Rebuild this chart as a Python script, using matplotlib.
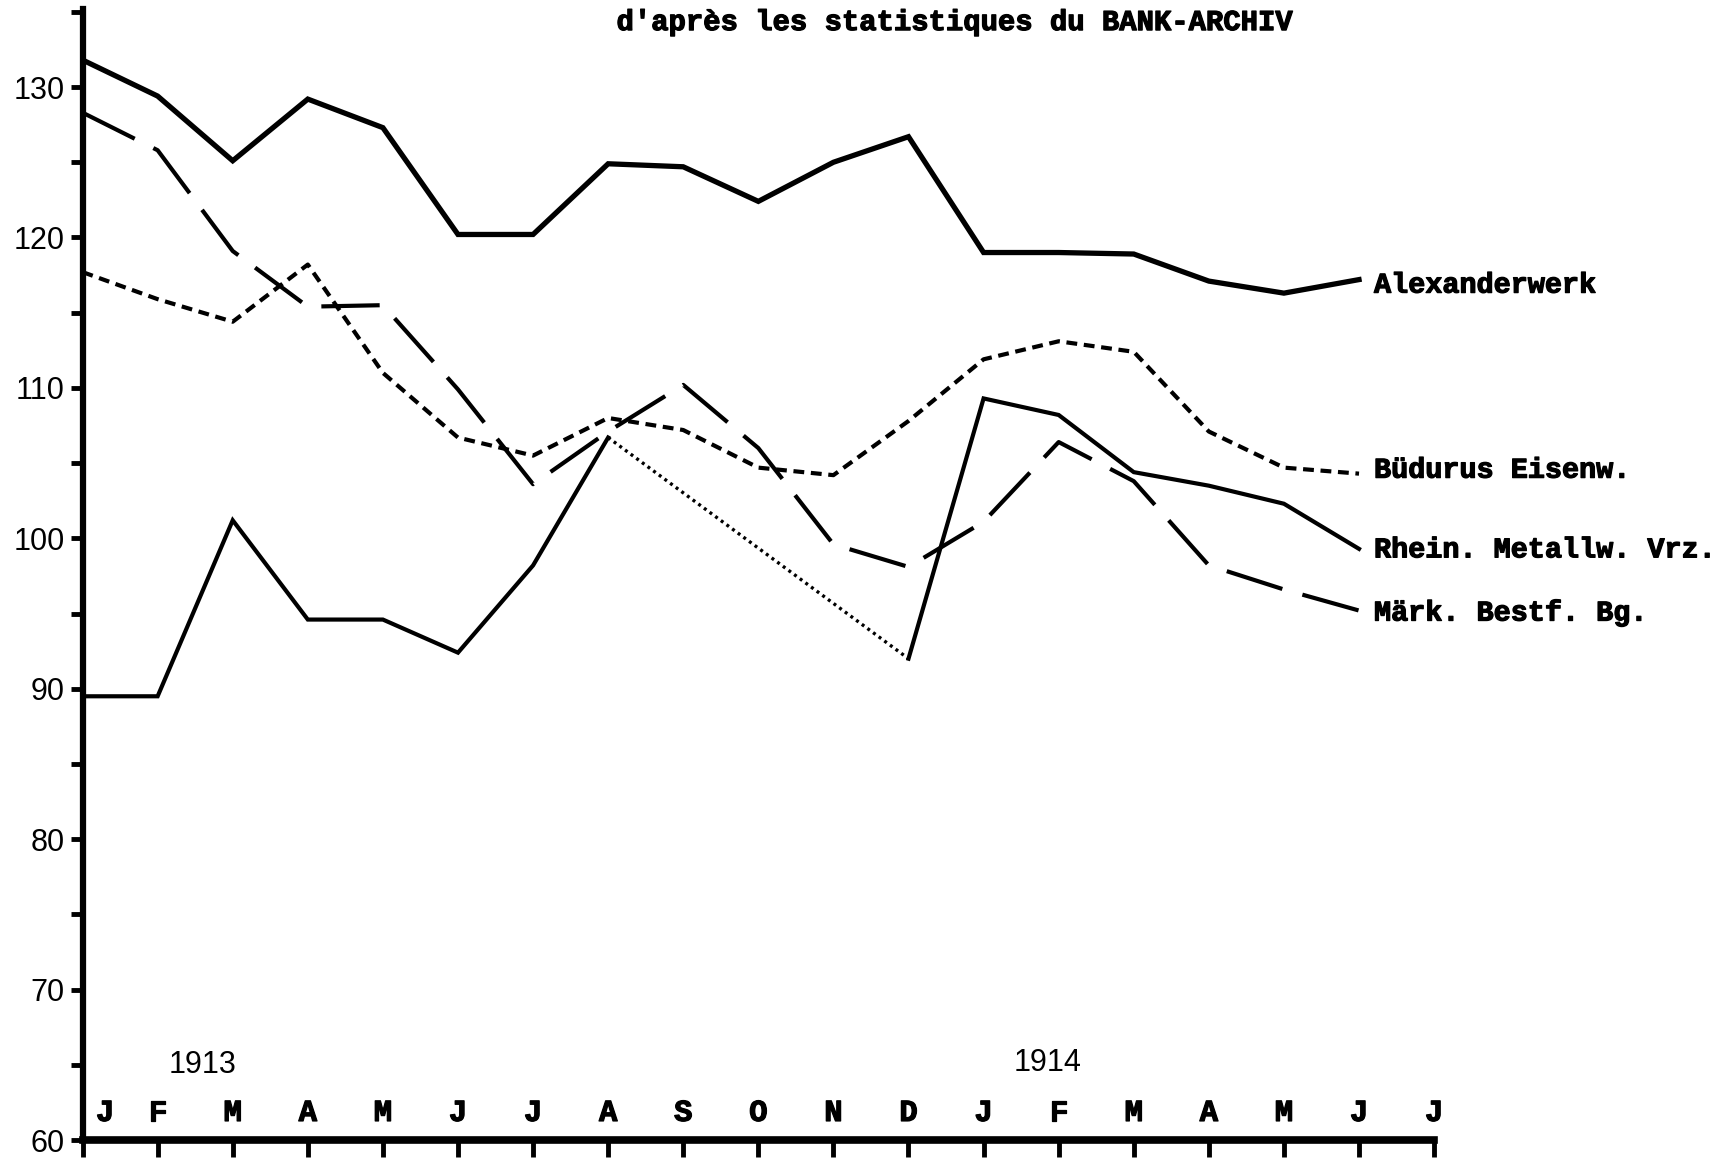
import numpy as np
import matplotlib
matplotlib.use("Agg")
import matplotlib.pyplot as plt
import matplotlib.patheffects as pe

# months Jan 1913 .. Jul 1914
months = ["J", "F", "M", "A", "M", "J", "J", "A", "S", "O", "N", "D",
          "J", "F", "M", "A", "M", "J", "J"]
years = ["1913", "1914"]

# cours
alexanderwerk = [131.8, 129.4, 125.1, 129.2, 127.3, 120.2, 120.2, 124.9, 124.7,
                 122.4, 125.0, 126.7, 119.0, 119.0, 118.9, 117.1, 116.3, 117.2]
buderus = [117.7, 115.9, 114.4, 118.2, 111.0, 106.7, 105.5, 108.0, 107.2,
           104.7, 104.2, 107.8, 111.9, 113.1, 112.4, 107.1, 104.7, 104.3]
rhein = [89.5, 89.5, 101.2, 94.6, 94.6, 92.4, 98.2, 106.7, np.nan,
         np.nan, np.nan, 92.0, 109.3, 108.2, 104.4, 103.5, 102.3, 99.3]
maerk = [128.3, 125.8, 119.1, 115.4, 115.5, 109.9, 103.6, 107.1, 110.2,
         106.0, 99.6, 98.1, 101.1, 106.4, 103.8, 98.2, 96.6, 95.2]

names = ["Alexanderwerk", "Büdurus Eisenw.", "Rhein. Metallw. Vrz.", "Märk. Bestf. Bg."]
title = "d'après les statistiques du BANK-ARCHIV"

TYPE = ["Liberation Mono", "DejaVu Sans Mono"]
HAND = ["Liberation Sans", "DejaVu Sans"]
heavy = [pe.withStroke(linewidth=0.9, foreground="black")]

fig = plt.figure(figsize=(17.27, 11.62), dpi=100)
ax = fig.add_axes([0.0478, 0.0189, 0.8304 - 0.0478, 0.9924 - 0.0189])

x = np.arange(len(alexanderwerk))
r = np.array(rhein)

ax.plot(x, alexanderwerk, color="black", lw=3.8, solid_joinstyle="miter")
ax.plot(x, buderus, color="black", lw=3.0, dashes=(2.6, 1.6))
ax.plot(x, r, color="black", lw=3.0, solid_joinstyle="miter")
gap = [7, 11]
ax.plot(x[gap], r[gap], color="black", lw=2.4, dashes=(0.9, 1.2))
ax.plot(x, maerk, color="black", lw=3.0, dashes=(14, 5))

# étiquettes en bout de courbe
ends = [alexanderwerk[-1] - 0.4, buderus[-1] + 0.2, rhein[-1] - 0.1, maerk[-1] - 0.2]
for name, yv in zip(names, ends):
    ax.text(x[-1] + 0.2, yv, name, family=TYPE, weight="bold", fontsize=20.5,
            ha="left", va="center", clip_on=False, path_effects=heavy)

ax.set_xlim(0, 18)
ax.set_ylim(60, 135.2)

for sp in ["top", "right"]:
    ax.spines[sp].set_visible(False)
ax.spines["left"].set_linewidth(4.5)
ax.spines["bottom"].set_linewidth(5.5)

ax.set_xticks(np.arange(len(months)))
ax.set_xticklabels([])
ax.tick_params(axis="x", direction="out", length=12, width=3.5)

ax.set_yticks(np.arange(60, 131, 10))
ax.set_yticks(np.arange(65, 136, 10), minor=True)
ax.tick_params(axis="y", which="both", direction="out", length=9, width=3.5,
               labelsize=22, pad=4)
for lab in ax.get_yticklabels():
    lab.set_family(HAND)

# mois au-dessus de l'axe
for i, m in enumerate(months):
    xi = i + 0.3 if i == 0 else i
    ax.text(xi, 61.8, m, family=TYPE, weight="bold", fontsize=22,
            ha="center", va="center", path_effects=heavy)

ax.text(1.6, 65.0, years[0], family=HAND, fontsize=22, ha="center", va="center")
ax.text(12.85, 65.1, years[1], family=HAND, fontsize=22, ha="center", va="center")

fig.text(0.357, 0.981, title, family=TYPE, weight="bold", fontsize=20.8,
         ha="left", va="center", path_effects=heavy)

fig.savefig("out.png", dpi=100)
